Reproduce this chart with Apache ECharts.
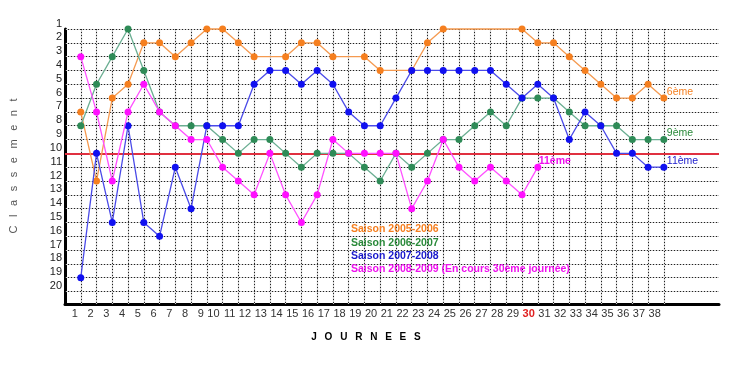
<!DOCTYPE html>
<html>
<head>
<meta charset="utf-8">
<script src="https://cdn.jsdelivr.net/npm/echarts@6/dist/echarts.min.js"></script>
<style>
html,body{margin:0;padding:0;background:#fff;}
#c{width:739px;height:366px;}
</style>
</head>
<body>
<div id="c"></div>
<script>
// ---- data ----
const journees = [1,2,3,4,5,6,7,8,9,10,11,12,13,14,15,16,17,18,19,20,21,22,23,24,25,26,27,28,29,30,31,32,33,34,35,36,37,38];
const rankTicks = [1,2,3,4,5,6,7,8,9,10,11,12,13,14,15,16,17,18,19,20];
const seasonNames = ['Saison 2005-2006','Saison 2006-2007','Saison 2007-2008','Saison 2008-2009 (En cours 30ème journée)'];
const s0506 = [7,12,6,5,2,2,3,2,1,1,2,3,null,3,2,2,3,null,3,4,null,4,2,1,null,null,null,null,1,2,2,3,4,5,6,6,5,6];
const s0607 = [8,5,3,1,4,7,8,8,8,9,10,9,9,10,11,10,10,10,11,12,10,11,10,9,9,8,7,8,6,6,6,7,8,8,8,9,9,9];
const s0708 = [19,10,15,8,15,16,11,14,8,8,8,5,4,4,5,4,5,7,8,8,6,4,4,4,4,4,4,5,6,5,6,9,7,8,10,10,11,11];
const s0809 = [3,7,12,7,5,7,8,9,9,11,12,13,10,13,15,13,9,10,10,10,10,14,12,9,11,12,11,12,13,11];
const currentJournee = 30;
const refRank = 10;

const seriesData = [s0506, s0607, s0708, s0809];
const markerColors = ['#f57f1f', '#2e8b57', '#1010f0', '#ff10ff'];
const lineColors = ['#f59a50', '#6aae92', '#4a4ae8', '#ff50ff'];
const textColors = ['#f57f1f', '#2a8a3a', '#1a1acc', '#ee11ee'];

const chart = echarts.init(document.getElementById('c'), null, {renderer: 'canvas'});
const narrow = "'Liberation Sans Narrow','Arial Narrow','Liberation Sans',Arial,sans-serif";
const sans = "'Liberation Sans',Arial,sans-serif";

function isTick(v, arr) {
  const r = Math.round(v);
  return Math.abs(v - r) < 1e-6 && arr.indexOf(r) >= 0;
}

const series = [
  { // gray grid underlay
    type: 'line', data: [], z: 1, silent: true,
    markLine: {
      silent: true, symbol: ['none','none'], label: {show: false}, animation: false,
      lineStyle: {color: '#cccccc', type: 'solid', width: 1.2},
      emphasis: {disabled: true},
      data: rankTicks.map(r => ({yAxis: r})).concat(journees.map(j => ({xAxis: j})))
    }
  },
  { // black dotted grid
    type: 'line', data: [], z: 2, silent: true,
    markLine: {
      silent: true, symbol: ['none','none'], label: {show: false}, animation: false,
      lineStyle: {color: '#222', type: [1, 2], width: 1},
      emphasis: {disabled: true},
      data: rankTicks.map(r => ({yAxis: r})).concat(journees.map(j => ({xAxis: j})))
    }
  },
  { // red reference line
    type: 'line', data: [], z: 3, silent: true,
    markLine: {
      silent: true, symbol: ['none','none'], label: {show: false}, animation: false,
      lineStyle: {color: '#e03040', type: 'solid', width: 2},
      emphasis: {disabled: true},
      data: [{yAxis: refRank}]
    }
  }
];

seriesData.forEach((arr, k) => {
  series.push({
    name: seasonNames[k],
    type: 'line',
    z: 5 + k,
    clip: false,
    connectNulls: true,
    symbol: 'circle',
    symbolSize: 7,
    animation: false,
    itemStyle: {color: markerColors[k]},
    lineStyle: {color: lineColors[k], width: 1.3},
    emphasis: {disabled: true},
    data: arr.map((v, i) => [journees[i], v])
  });
});

const option = {
  animation: false,
  backgroundColor: '#fff',
  grid: {left: 65, right: 20, top: 29, bottom: 62, containLabel: false},
  xAxis: {
    type: 'value', min: 0, max: 41.5, interval: 1,
    axisLine: {show: true, onZero: false, lineStyle: {color: '#000', width: 3}},
    axisTick: {show: false},
    splitLine: {show: false},
    axisLabel: {
      margin: 4, fontSize: 11, fontFamily: narrow, color: '#333',
      align: 'right', padding: [0, 3, 0, 0],
      showMinLabel: true, showMaxLabel: false, hideOverlap: false,
      formatter: v => isTick(v, journees) ? (Math.round(v) === currentJournee ? '{r|' + Math.round(v) + '}' : String(Math.round(v))) : '',
      rich: {r: {color: '#e02020', fontWeight: 'bold', fontSize: 11, fontFamily: narrow}}
    }
  },
  yAxis: {
    type: 'value', inverse: true, min: 1, max: 20.9, interval: 1,
    axisLine: {show: true, onZero: false, lineStyle: {color: '#000', width: 3}},
    axisTick: {show: false},
    splitLine: {show: false},
    axisLabel: {
      margin: 3, fontSize: 11, fontFamily: narrow, color: '#222',
      verticalAlign: 'bottom', showMaxLabel: false, hideOverlap: false,
      formatter: v => isTick(v, rankTicks) ? String(Math.round(v)) : ''
    }
  },
  series: series
};
chart.setOption(option);

// ---- texts ----
const graphics = [];
// legend block
seasonNames.forEach((name, k) => {
  graphics.push({
    type: 'text', left: 351, top: 224 + k * 13.3, z: 20, silent: true,
    style: {text: name, fill: textColors[k], font: 'bold 10.5px ' + sans}
  });
});
// end labels derived from last values
seriesData.forEach((arr, k) => {
  let i = arr.length - 1;
  while (i >= 0 && arr[i] == null) i--;
  const p = chart.convertToPixel({gridIndex: 0}, [journees[i], arr[i]]);
  const isCurrent = (k === 3);
  graphics.push({
    type: 'text', x: p[0] + (isCurrent ? 1 : 3), y: p[1] - 6, z: 20, silent: true,
    style: {
      text: arr[i] + 'ème', fill: textColors[k],
      font: (isCurrent ? 'bold 10.5px ' : '10.5px ') + sans,
      textAlign: 'left', textVerticalAlign: 'middle'
    }
  });
});
// y axis title
graphics.push({
  type: 'text', x: 14, y: 166, rotation: Math.PI / 2, z: 20, silent: true,
  style: {text: 'C \u2002l \u2002a \u2002s \u2002s \u2002e \u2002m \u2002e \u2002n \u2002t', fill: '#555', font: '11px ' + sans, textAlign: 'center', textVerticalAlign: 'middle'}
});
// x axis title
graphics.push({
  type: 'text', x: 366, y: 337, z: 20, silent: true,
  style: {text: 'J \u2002O \u2002U \u2002R \u2002N \u2002E \u2002E \u2002S', fill: '#000', font: 'bold 10px ' + sans, textAlign: 'center', textVerticalAlign: 'middle'}
});
chart.setOption({graphic: graphics});
</script>
</body>
</html>
